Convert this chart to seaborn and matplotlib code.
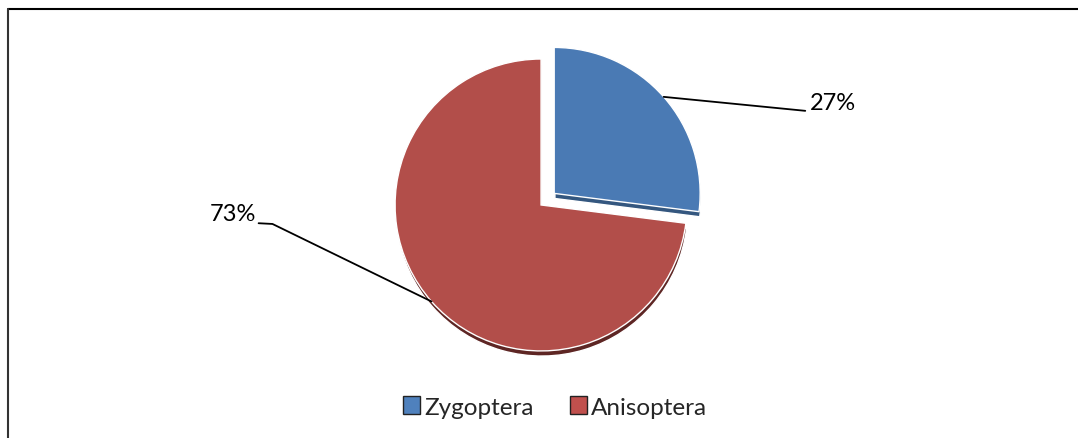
import numpy as np
import seaborn as sns
import matplotlib.pyplot as plt
from matplotlib.patches import Patch
from matplotlib.lines import Line2D

labels = ["Zygoptera", "Anisoptera"]
shares = [27, 73]
pct_labels = ["27%", "73%"]
colors = ["#4a7ab4", "#b24e4a"]
dark_colors = ["#34577f", "#5e2624"]
legend_colors = ["#4f81bd", "#c0504d"]

sns.set_theme(style="white")
plt.rcParams["font.family"] = ["Lato", "DejaVu Sans"]

fig = plt.figure(figsize=(10.78, 4.39), dpi=100)
fig.patch.set_facecolor("white")

# square axes, pie centre at about (541, 206) px, radius ~146 px
ax = fig.add_axes([0.3394, 0.1318, 0.325, 0.798])

explode = [0.12, 0.0]

# darker copy underneath for the thin 3d rim
ax.pie(shares, colors=dark_colors, startangle=90, counterclock=False,
       explode=explode, center=(0.005, -0.035), radius=1.0)
wedges, _ = ax.pie(shares, colors=colors, startangle=90, counterclock=False,
                   explode=explode, radius=1.0)
ax.set_xlim(-1.2, 1.2)
ax.set_ylim(-1.2, 1.2)
ax.set_aspect("equal")
ax.axis("off")

# leader lines + percent labels
text_pos = [(1.84, 0.70), (-1.95, -0.055)]
for w, txt, (tx, ty), ex in zip(wedges, pct_labels, text_pos, explode):
    mid = np.deg2rad((w.theta1 + w.theta2) / 2)
    ax0 = np.cos(mid) * (1 + ex)
    ay0 = np.sin(mid) * (1 + ex)
    if tx > 0:
        xs = [ax0, tx - 0.03]
        ys = [ay0, ty - 0.055]
        ha = "left"
    else:
        xs = [ax0, tx + 0.11, tx + 0.015]
        ys = [ay0, ty - 0.075, ty - 0.07]
        ha = "right"
    ax.add_line(Line2D(xs, ys, color="black", lw=1.3, clip_on=False))
    ax.text(tx, ty, txt, ha=ha, va="center", fontsize=17, color="black")

handles = [Patch(facecolor=c, edgecolor="#222222", linewidth=1.0) for c in legend_colors]
fig.legend(handles, labels, loc="center", bbox_to_anchor=(555 / 1078, 1 - 408 / 439),
           ncol=2, frameon=False, fontsize=17.5, handlelength=0.7, handleheight=0.7,
           handletextpad=0.15, columnspacing=1.5)

# chart border (top and left visible)
fig.add_artist(Line2D([8 / 1078, 1.0], [1 - 10 / 439, 1 - 10 / 439],
                      transform=fig.transFigure, color="black", lw=1.5))
fig.add_artist(Line2D([8 / 1078, 8 / 1078], [0.0, 1 - 10 / 439],
                      transform=fig.transFigure, color="#333333", lw=1.5))

fig.savefig("out.png", dpi=100, facecolor="white")
